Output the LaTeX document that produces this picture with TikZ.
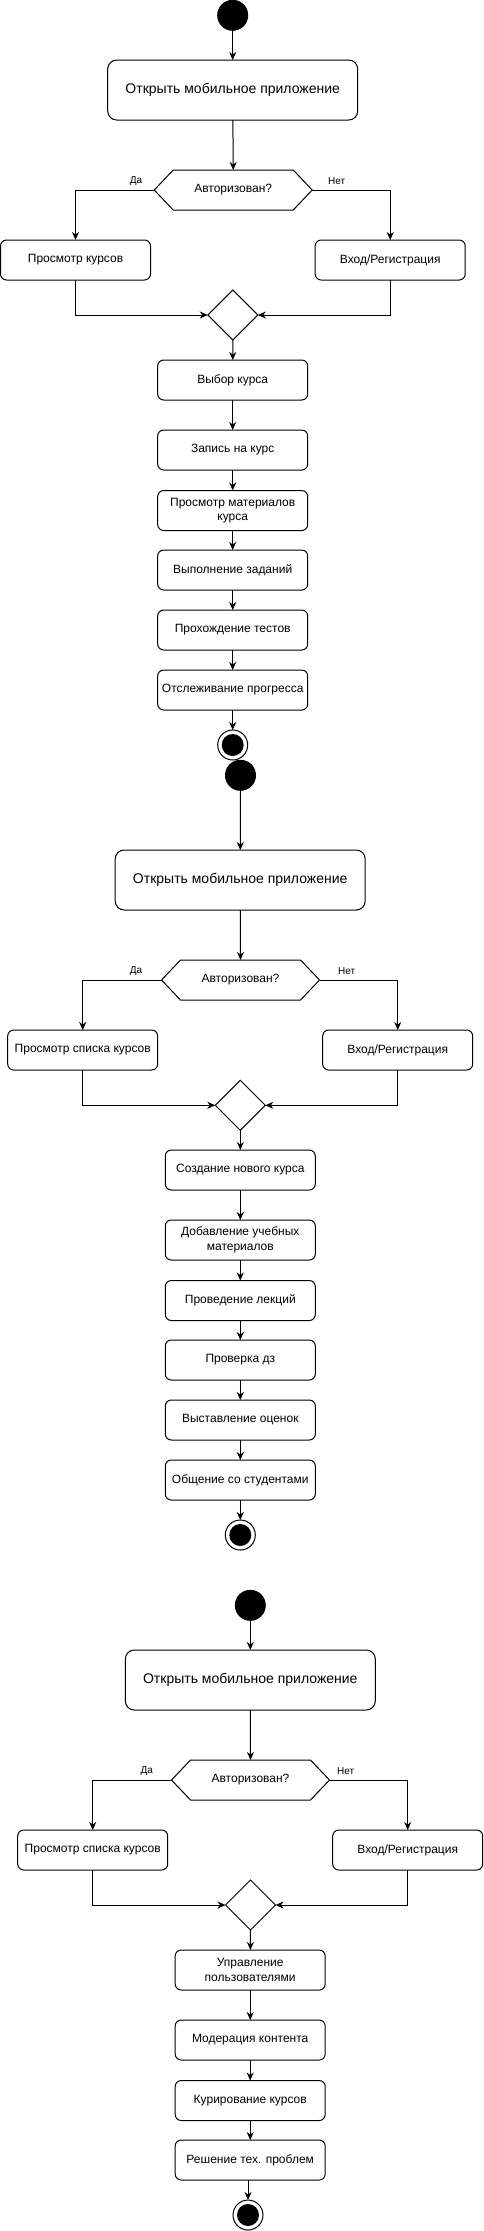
\documentclass[tikz,border=0pt]{standalone}
\usepackage{fontspec}
\setmainfont{Liberation Sans}
\usetikzlibrary{arrows.meta,shapes.geometric}
\begin{document}
\begin{tikzpicture}[x=1pt,y=-1pt,
  every node/.style={inner sep=0pt, outer sep=0pt},
  act/.style={draw, line width=1pt, rounded corners=6pt, minimum width=150pt, minimum height=40pt, align=center, font=\fontsize{12}{14.5}\selectfont},
  bigact/.style={draw, line width=1pt, rounded corners=9pt, minimum width=250pt, minimum height=60pt, align=center, font=\fontsize{14}{16}\selectfont},
  hexbox/.style={minimum width=158pt, minimum height=40pt, font=\fontsize{12}{14}\selectfont},
  hexline/.style={draw, line width=1pt},
  merge/.style={draw, diamond, line width=1pt, minimum width=50pt, minimum height=50pt, aspect=1},
  startnode/.style={circle, fill=black, minimum size=31pt},
  endouter/.style={circle, draw, line width=1pt, fill=white, minimum size=30pt},
  endinner/.style={circle, fill=black, minimum size=22pt},
  lbl/.style={font=\fontsize{10}{12}\selectfont},
  flow/.style={draw, line width=1pt, -{Stealth[length=8pt,width=7pt,inset=2.5pt]}}
]
\useasboundingbox (0,0) rectangle (484,2231);

% ---------------- Diagram 1 ----------------
\node[startnode] (s1) at (232.7,15.3) {};
\node[bigact] (o1) at (232.7,90) {Открыть мобильное приложение};
\node[hexbox] (h1) at (233.2,190) {Авторизован?};
\draw[hexline] (h1.west) -- ([xshift=19pt]h1.north west) -- ([xshift=-19pt]h1.north east) -- (h1.east) -- ([xshift=-19pt]h1.south east) -- ([xshift=19pt]h1.south west) -- cycle;
\node[act] (l1) at (75.5,260) {Просмотр курсов};
\node[act] (r1) at (390.2,260) {Вход/Регистрация};
\node[merge] (d1) at (232.8,315) {};
\node[act] (a1) at (232.7,380) {Выбор курса};
\node[act] (a2) at (232.7,450) {Запись на курс};
\node[act] (a3) at (232.7,510.5) {Просмотр материалов\\курса};
\node[act] (a4) at (232.7,570) {Выполнение заданий};
\node[act] (a5) at (232.7,630) {Прохождение тестов};
\node[act] (a6) at (232.7,690) {Отслеживание прогресса};
\node[endouter] (e1) at (232.7,745) {};
\node[endinner] (e1i) at (e1.center) {};
\node[lbl] (da1) at (136,181) {Да};
\node[lbl] (net1) at (336.7,181) {Нет};

\draw[flow] (s1) -- (o1);
\draw[flow] (o1) -- (h1.north);
\draw[flow] (h1.west) -| (l1.north);
\draw[flow] (h1.east) -| (r1.north);
\draw[flow] (l1.south) |- (d1.west);
\draw[flow] (r1.south) |- (d1.east);
\draw[flow] (d1.south) -- (a1);
\draw[flow] (a1) -- (a2);
\draw[flow] (a2) -- (a3);
\draw[flow] (a3) -- (a4);
\draw[flow] (a4) -- (a5);
\draw[flow] (a5) -- (a6);
\draw[flow] (a6) -- (e1);

% ---------------- Diagram 2 ----------------
\node[startnode] (s2) at (240.5,775.3) {};
\node[bigact] (o2) at (240.2,880) {Открыть мобильное приложение};
\node[hexbox] (h2) at (240.5,980) {Авторизован?};
\draw[hexline] (h2.west) -- ([xshift=19pt]h2.north west) -- ([xshift=-19pt]h2.north east) -- (h2.east) -- ([xshift=-19pt]h2.south east) -- ([xshift=19pt]h2.south west) -- cycle;
\node[act] (l2) at (82.7,1050) {Просмотр списка курсов};
\node[act] (r2) at (397.7,1050) {Вход/Регистрация};
\node[merge] (d2) at (240.3,1105.3) {};
\node[act] (b1) at (240.3,1170) {Создание нового курса};
\node[act] (b2) at (240.3,1240) {Добавление учебных\\материалов};
\node[act] (b3) at (240.3,1300.5) {Проведение лекций};
\node[act] (b4) at (240.3,1360) {Проверка дз};
\node[act] (b5) at (240.3,1420) {Выставление оценок};
\node[act] (b6) at (240.3,1480) {Общение со студентами};
\node[endouter] (e2) at (240.3,1535) {};
\node[endinner] (e2i) at (e2.center) {};
\node[lbl] (da2) at (136,971) {Да};
\node[lbl] (net2) at (346.7,971) {Нет};

\draw[flow] (s2) -- (o2);
\draw[flow] (o2) -- (h2.north);
\draw[flow] (h2.west) -| (l2.north);
\draw[flow] (h2.east) -| (r2.north);
\draw[flow] (l2.south) |- (d2.west);
\draw[flow] (r2.south) |- (d2.east);
\draw[flow] (d2.south) -- (b1);
\draw[flow] (b1) -- (b2);
\draw[flow] (b2) -- (b3);
\draw[flow] (b3) -- (b4);
\draw[flow] (b4) -- (b5);
\draw[flow] (b5) -- (b6);
\draw[flow] (b6) -- (e2);

% ---------------- Diagram 3 ----------------
\node[startnode] (s3) at (250.3,1605.3) {};
\node[bigact] (o3) at (250.3,1680) {Открыть мобильное приложение};
\node[hexbox] (h3) at (250.5,1780) {Авторизован?};
\draw[hexline] (h3.west) -- ([xshift=19pt]h3.north west) -- ([xshift=-19pt]h3.north east) -- (h3.east) -- ([xshift=-19pt]h3.south east) -- ([xshift=19pt]h3.south west) -- cycle;
\node[act] (l3) at (92.7,1850) {Просмотр списка курсов};
\node[act] (r3) at (407.7,1850) {Вход/Регистрация};
\node[merge] (d3) at (250.5,1905) {};
\node[act] (c1) at (250.2,1970) {Управление\\пользователями};
\node[act] (c2) at (250.2,2040) {Модерация контента};
\node[act] (c3) at (250.2,2100.5) {Курирование курсов};
\node[act] (c4) at (250.2,2160) {Решение тех. проблем};
\node[endouter] (e3) at (248,2215) {};
\node[endinner] (e3i) at (e3.center) {};
\node[lbl] (da3) at (146.7,1771) {Да};
\node[lbl] (net3) at (345.7,1771) {Нет};

\draw[flow] (s3) -- (o3);
\draw[flow] (o3) -- (h3.north);
\draw[flow] (h3.west) -| (l3.north);
\draw[flow] (h3.east) -| (r3.north);
\draw[flow] (l3.south) |- (d3.west);
\draw[flow] (r3.south) |- (d3.east);
\draw[flow] (d3.south) -- (c1);
\draw[flow] (c1) -- (c2);
\draw[flow] (c2) -- (c3);
\draw[flow] (c3) -- (c4);
\draw[flow] (c4.south -| e3.north) -- (e3);
\end{tikzpicture}
\end{document}
